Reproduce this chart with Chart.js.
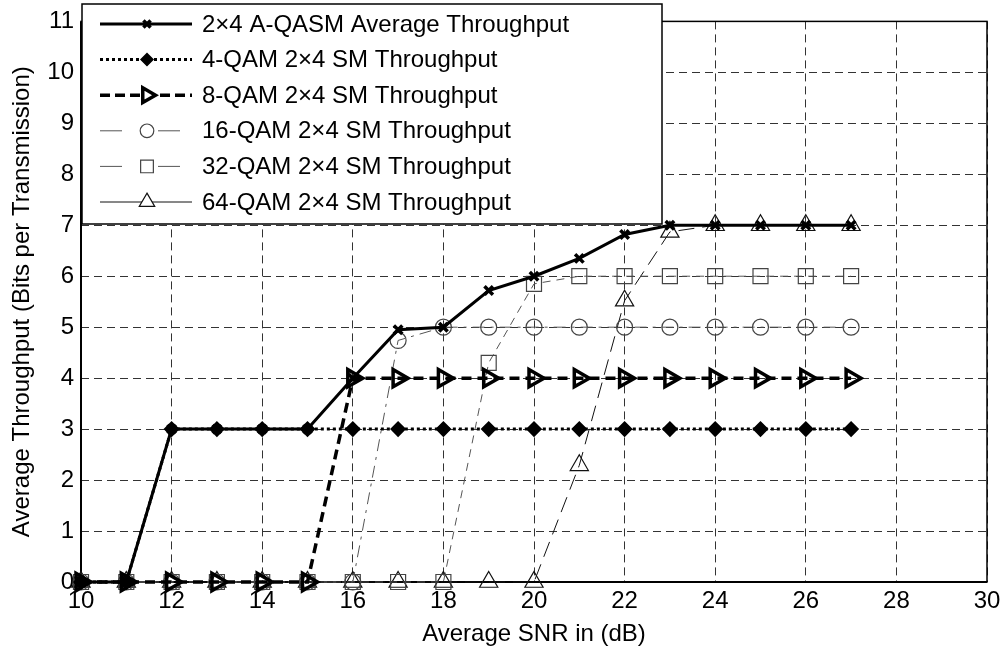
<!DOCTYPE html>
<html>
<head>
<meta charset="utf-8">
<script src="https://cdn.jsdelivr.net/npm/chart.js@4.4.0/dist/chart.umd.min.js"></script>
<style>
html,body{margin:0;padding:0;background:#fff;}
#wrap{width:1007px;height:653px;}
</style>
</head>
<body>
<div id="wrap"><canvas id="c" width="1007" height="653"></canvas></div>
<script>
// ---- data ----
const snr      = [10,11,12,13,14,15,16,17,18,19,20,21,22,23,24,25,26,27];
const aqasm    = [0,0,3,3,3,3,4,4.95,5,5.72,6,6.35,6.82,7,7,7,7,7];
const qam4     = [0,0,3,3,3,3,3,3,3,3,3,3,3,3,3,3,3,3];
const qam8     = [0,0,0,0,0,0,4,4,4,4,4,4,4,4,4,4,4,4];
const qam16    = [0,0,0,0,0,0,0,4.74,5,5,5,5,5,5,5,5,5,5];
const qam32    = [0,0,0,0,0,0,0,0,0,4.3,5.85,6,6,6,6,6,6,6];
const qam64    = [0,0,0,0,0,0,0,0,0,0,0,2.29,5.52,6.87,7,7,7,7];
const seriesLabels = [
  '2\u00d74 A-QASM Average Throughput',
  '4-QAM 2\u00d74 SM Throughput',
  '8-QAM 2\u00d74 SM Throughput',
  '16-QAM 2\u00d74 SM Throughput',
  '32-QAM 2\u00d74 SM Throughput',
  '64-QAM 2\u00d74 SM Throughput'
];
const xTickMin = 10, xTickMax = 30, xTickStep = 2;
const yTickMin = 0, yTickMax = 11, yTickStep = 1;
const xTitle = 'Average SNR in (dB)';
const yTitle = 'Average Throughput (Bits per Transmission)';

const pts = arr => snr.map((x, i) => ({x: x, y: arr[i]}));
const FONT = '"Liberation Sans", Arial, Helvetica, sans-serif';
const clear = 'rgba(0,0,0,0)';

const datasets = [
  {label: seriesLabels[0], data: pts(aqasm), borderColor:'#000', borderWidth:3, borderDash:[],
   pointStyle:'crossRot', pointRadius:6, pointBorderWidth:3.5, pointBorderColor:'#000', pointBackgroundColor:'#000',
   legendDash:[], legendFill:'#000'},
  {label: seriesLabels[1], data: pts(qam4), borderColor:'#000', borderWidth:3, borderDash:[3,3],
   pointStyle:'rectRot', pointRadius:7, pointBorderWidth:1.5, pointBorderColor:'#000', pointBackgroundColor:'#000',
   legendDash:[3,3], legendFill:'#000'},
  {label: seriesLabels[2], data: pts(qam8), borderColor:'#000', borderWidth:3.5, borderDash:[10,6],
   pointStyle:'triangle', pointRotation:90, pointRadius:10, pointBorderWidth:3.5, pointBorderColor:'#000', pointBackgroundColor:clear,
   legendDash:[10,5], legendFill:'#fff'},
  {label: seriesLabels[3], data: pts(qam16), borderColor:'#555', borderWidth:1, borderDash:[12,6,3,6],
   pointStyle:'circle', pointRadius:8, pointBorderWidth:1.2, pointBorderColor:'#444', pointBackgroundColor:clear,
   legendDash:[22,36], legendFill:'#fff'},
  {label: seriesLabels[4], data: pts(qam32), borderColor:'#555', borderWidth:1, borderDash:[8,6],
   pointStyle:'rect', pointRadius:10.6, pointBorderWidth:1.2, pointBorderColor:'#444', pointBackgroundColor:clear,
   legendDash:[22,36], legendFill:'#fff'},
  {label: seriesLabels[5], data: pts(qam64), borderColor:'#111', borderWidth:1, borderDash:[16,8],
   pointStyle:'triangle', pointRadius:10.5, pointBorderWidth:1.2, pointBorderColor:'#111', pointBackgroundColor:clear,
   legendDash:[], legendFill:'#fff'}
];
datasets.forEach(d => { d.tension = 0; d.fill = false; d.clip = false; d.pointRotation = d.pointRotation || 0; });

const framePlugin = {
  id: 'frame',
  beforeDatasetsDraw(chart) {
    const {ctx, chartArea: a} = chart;
    ctx.save();
    ctx.strokeStyle = '#000';
    ctx.setLineDash([]);
    ctx.lineWidth = 1.5;
    ctx.strokeRect(a.left, a.top, a.right - a.left, a.bottom - a.top);
    ctx.lineWidth = 2;
    ctx.beginPath();
    ctx.moveTo(a.left, a.top); ctx.lineTo(a.left, a.bottom); ctx.lineTo(a.right, a.bottom);
    ctx.stroke();
    ctx.restore();
  },
  afterDraw(chart) {
    const ctx = chart.ctx;
    ctx.save();
    // legend box
    ctx.setLineDash([]);
    ctx.fillStyle = '#fff';
    ctx.fillRect(82, 4, 580, 220);
    ctx.strokeStyle = '#000';
    ctx.lineWidth = 1.5;
    ctx.strokeRect(82, 4, 580, 220);
    chart.data.datasets.forEach((ds, i) => {
      const y = 24 + i * 35.6;
      ctx.save();
      ctx.strokeStyle = ds.borderColor;
      ctx.lineWidth = ds.borderWidth;
      ctx.setLineDash(ds.legendDash || []);
      ctx.beginPath();
      ctx.moveTo(100, y); ctx.lineTo(192, y);
      ctx.stroke();
      ctx.setLineDash([]);
      ctx.strokeStyle = ds.pointBorderColor;
      ctx.fillStyle = ds.legendFill;
      ctx.lineWidth = ds.pointBorderWidth;
      if (Chart.helpers && Chart.helpers.drawPoint) {
        Chart.helpers.drawPoint(ctx, {pointStyle: ds.pointStyle, rotation: ds.pointRotation || 0,
          radius: ds.pointRadius * 0.85, borderWidth: ds.pointBorderWidth}, 147, y);
      }
      ctx.restore();
      ctx.fillStyle = '#000';
      ctx.font = '24px ' + FONT;
      ctx.textBaseline = 'middle';
      ctx.textAlign = 'left';
      ctx.fillText(ds.label, 202, y + 1);
    });
    ctx.restore();
  }
};

new Chart(document.getElementById('c'), {
  type: 'line',
  data: {datasets: datasets},
  options: {
    responsive: false,
    devicePixelRatio: 1,
    animation: false,
    events: [],
    layout: {padding: {top: 19.5, right: 20, bottom: 0, left: 0}},
    plugins: {legend: {display: false}, tooltip: {enabled: false}},
    scales: {
      x: {
        type: 'linear', min: xTickMin, max: xTickMax,
        afterFit: s => { s.height = 71; },
        ticks: {stepSize: xTickStep, color: '#000', font: {family: FONT, size: 24}, padding: 5, maxRotation: 0, autoSkip: false},
        grid: {color: '#333', lineWidth: 1, drawTicks: false},
        border: {display: false, dash: [8, 5]},
        title: {display: true, text: xTitle, color: '#000', font: {family: FONT, size: 24}, padding: {top: 0, bottom: 4}}
      },
      y: {
        type: 'linear', min: yTickMin, max: yTickMax,
        afterFit: s => { s.width = 81; },
        ticks: {stepSize: yTickStep, color: '#000', font: {family: FONT, size: 24}, padding: 7, autoSkip: false},
        grid: {color: '#333', lineWidth: 1, drawTicks: false},
        border: {display: false, dash: [8, 5]},
        title: {display: true, text: yTitle, color: '#000', font: {family: FONT, size: 24}, padding: {top: 8, bottom: 0}}
      }
    }
  },
  plugins: [framePlugin]
});
</script>
</body>
</html>
